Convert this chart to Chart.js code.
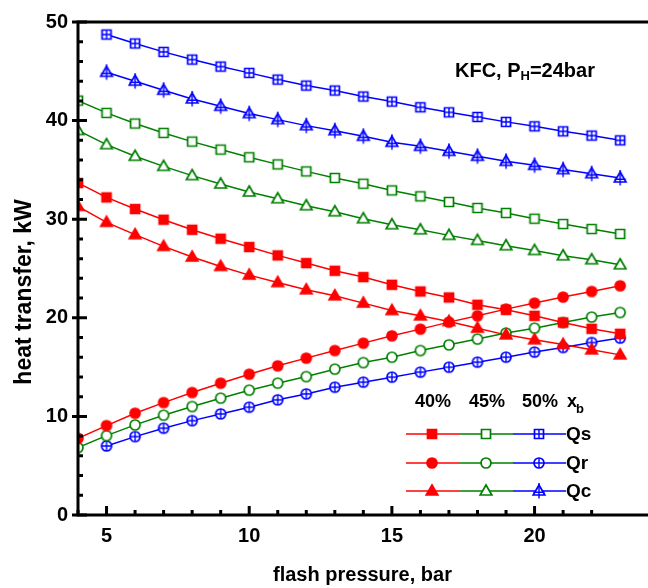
<!DOCTYPE html>
<html><head><meta charset="utf-8">
<script src="https://cdn.jsdelivr.net/npm/chart.js@4.4.0/dist/chart.umd.min.js"></script>
<style>html,body{margin:0;padding:0;background:#fff;overflow:hidden}#wrap{width:648px;height:588px;position:relative}</style>
</head><body><div id="wrap"><canvas id="c" width="648" height="588"></canvas></div>
<script>
const pressures = [4,5,6,7,8,9,10,11,12,13,14,15,16,17,18,19,20,21,22,23];
const xTickLabels = [5,10,15,20];
const yTickLabels = [0,10,20,30,40,50];
const fractionLabels = ['40%','45%','50%'];
const heatLabels = ['Qs','Qr','Qc'];

const qs40 = [33.67,32.21,31.03,29.95,28.93,28.02,27.18,26.33,25.55,24.77,24.13,23.35,22.67,22.06,21.32,20.81,20.20,19.52,18.88,18.38];
const qr40 = [7.78,9.07,10.32,11.40,12.42,13.37,14.28,15.13,15.91,16.68,17.43,18.17,18.85,19.56,20.20,20.88,21.49,22.10,22.67,23.25];
const qc40 = [31.30,29.68,28.43,27.24,26.16,25.21,24.33,23.58,22.84,22.23,21.49,20.74,20.20,19.63,18.95,18.27,17.77,17.30,16.75,16.24];
const qs45 = [42.03,40.78,39.70,38.75,37.87,37.06,36.28,35.56,34.85,34.18,33.60,32.92,32.32,31.75,31.14,30.63,30.05,29.51,29.00,28.50];
const qr45 = [6.83,8.05,9.14,10.12,11.00,11.85,12.66,13.37,14.04,14.79,15.46,16.00,16.68,17.26,17.84,18.45,18.95,19.52,20.07,20.54];
const qc45 = [39.00,37.56,36.38,35.36,34.42,33.57,32.76,32.08,31.37,30.76,30.05,29.44,28.93,28.36,27.85,27.31,26.83,26.29,25.89,25.38];
const qs50 = [null,48.73,47.82,46.97,46.19,45.48,44.84,44.16,43.55,43.05,42.44,41.93,41.35,40.84,40.37,39.87,39.42,38.91,38.48,38.00];
const qr50 = [null,7.00,7.95,8.80,9.57,10.25,10.93,11.68,12.28,12.96,13.47,13.98,14.49,14.99,15.50,16.01,16.52,16.99,17.49,17.94];
const qc50 = [null,44.90,44.00,43.08,42.20,41.45,40.71,40.10,39.49,38.98,38.41,37.80,37.39,36.88,36.38,35.87,35.46,35.03,34.62,34.18];

const RED = '#ff0000', GREEN = '#008000', BLUE = '#0000ff';
const FONT = '"Liberation Sans", Arial, sans-serif';

function makeMarker(shape, color, mode) {
  const s = 18, c = document.createElement('canvas');
  c.width = s; c.height = s;
  const g = c.getContext('2d'); const m = s / 2;
  g.lineWidth = 1.7; g.strokeStyle = color; g.fillStyle = mode === 'fill' ? color : '#fff';
  g.beginPath();
  if (shape === 'square') g.rect(m - 4.5, m - 4.5, 9, 9);
  else if (shape === 'circle') g.arc(m, m, 5, 0, Math.PI * 2);
  else { g.moveTo(m, m - 6); g.lineTo(m + 5.8, m + 4); g.lineTo(m - 5.8, m + 4); g.closePath(); }
  g.fill(); g.stroke();
  if (mode === 'cross') {
    g.lineWidth = 1.4;
    g.beginPath();
    if (shape === 'square') { g.moveTo(m, m - 4.5); g.lineTo(m, m + 4.5); g.moveTo(m - 4.5, m); g.lineTo(m + 4.5, m); }
    else if (shape === 'circle') { g.moveTo(m, m - 5); g.lineTo(m, m + 5); g.moveTo(m - 5, m); g.lineTo(m + 5, m); }
    else { g.moveTo(m, m - 8); g.lineTo(m, m + 7.5); g.moveTo(m - 5.5, m + 1.2); g.lineTo(m + 5.5, m + 1.2); }
    g.stroke();
  }
  return c;
}

const markers = {
  qs40: makeMarker('square', RED, 'fill'), qs45: makeMarker('square', GREEN, 'open'), qs50: makeMarker('square', BLUE, 'cross'),
  qr40: makeMarker('circle', RED, 'fill'), qr45: makeMarker('circle', GREEN, 'open'), qr50: makeMarker('circle', BLUE, 'cross'),
  qc40: makeMarker('triangle', RED, 'fill'), qc45: makeMarker('triangle', GREEN, 'open'), qc50: makeMarker('triangle', BLUE, 'cross')
};

function ds(label, values, color, marker) {
  const pts = [];
  pressures.forEach((p, i) => { if (values[i] != null) pts.push({ x: p, y: values[i] }); });
  return { label, data: pts, borderColor: color, backgroundColor: color, borderWidth: 1.5,
    pointStyle: marker, pointRadius: 6, pointHoverRadius: 6, tension: 0, fill: false, clip: 0 };
}

const datasets = [
  ds('Qs 50%', qs50, BLUE, markers.qs50), ds('Qc 50%', qc50, BLUE, markers.qc50),
  ds('Qs 45%', qs45, GREEN, markers.qs45), ds('Qc 45%', qc45, GREEN, markers.qc45),
  ds('Qs 40%', qs40, RED, markers.qs40), ds('Qc 40%', qc40, RED, markers.qc40),
  ds('Qr 40%', qr40, RED, markers.qr40), ds('Qr 45%', qr45, GREEN, markers.qr45), ds('Qr 50%', qr50, BLUE, markers.qr50)
];

const framePlugin = {
  id: 'frame',
  afterDatasetsDraw(chart) {
    const { ctx, chartArea: a, scales: { x, y } } = chart;
    ctx.save();
    ctx.strokeStyle = '#000'; ctx.lineWidth = 3; ctx.lineJoin = 'miter'; ctx.lineCap = 'butt';
    ctx.beginPath();
    ctx.moveTo(chart.width + 5, a.top); ctx.lineTo(a.left, a.top); ctx.lineTo(a.left, a.bottom); ctx.lineTo(chart.width + 5, a.bottom);
    ctx.stroke();
    ctx.beginPath();
    y.ticks.forEach(t => {
      const py = y.getPixelForValue(t.value);
      if (yTickLabels.includes(t.value)) { ctx.moveTo(a.left - 6, py); ctx.lineTo(a.left + 9, py); }
      else { ctx.moveTo(a.left, py); ctx.lineTo(a.left + 5, py); }
    });
    x.ticks.forEach(t => {
      if (!Number.isInteger(t.value)) return;
      const px = x.getPixelForValue(t.value);
      if (xTickLabels.includes(t.value)) { ctx.moveTo(px, a.bottom); ctx.lineTo(px, a.bottom - 9); }
      else { ctx.moveTo(px, a.bottom); ctx.lineTo(px, a.bottom - 5); }
    });
    ctx.stroke();
    ctx.restore();
  },
  afterDraw(chart) {
    const { ctx, chartArea: a } = chart;
    ctx.save();
    ctx.fillStyle = '#000';
    // axis titles
    ctx.font = 'bold 23px ' + FONT;
    ctx.textAlign = 'center'; ctx.textBaseline = 'middle';
    ctx.save(); ctx.translate(25, a.top + 270); ctx.rotate(-Math.PI / 2);
    ctx.fillText('heat transfer, kW', 0, 0); ctx.restore();
    ctx.font = 'bold 20px ' + FONT;
    ctx.fillText('flash pressure, bar', (a.left + a.right) / 2 + 4, 575);
    // annotation
    ctx.textAlign = 'left'; ctx.textBaseline = 'alphabetic';
    let tx = a.left + 377, ty = a.top + 55;
    ctx.font = 'bold 20px ' + FONT;
    ctx.fillText('KFC, P', tx, ty); tx += ctx.measureText('KFC, P').width;
    ctx.font = 'bold 13px ' + FONT; ctx.fillText('H', tx, ty + 3); tx += ctx.measureText('H').width;
    ctx.font = 'bold 20px ' + FONT; ctx.fillText('=24bar', tx, ty);
    // legend
    const cols = [a.left + 354, a.left + 408, a.left + 461];
    const colEdges = [a.left + 328, a.left + 381, a.left + 435, a.left + 488];
    const colors = [RED, GREEN, BLUE];
    ctx.font = 'bold 18px ' + FONT; ctx.textAlign = 'center';
    const hy = a.top + 385;
    fractionLabels.forEach((f, i) => ctx.fillText(f, cols[i] + 1, hy));
    ctx.textAlign = 'left';
    ctx.fillText('x', a.left + 489, hy);
    ctx.font = 'bold 13px ' + FONT; ctx.fillText('b', a.left + 498, hy + 6);
    const rowY = [a.top + 412, a.top + 441, a.top + 469];
    const rowMarkers = [[markers.qs40, markers.qs45, markers.qs50], [markers.qr40, markers.qr45, markers.qr50], [markers.qc40, markers.qc45, markers.qc50]];
    heatLabels.forEach((lab, r) => {
      const yy = rowY[r];
      for (let i = 0; i < 3; i++) {
        ctx.strokeStyle = colors[i]; ctx.lineWidth = 1.5;
        ctx.beginPath(); ctx.moveTo(colEdges[i], yy); ctx.lineTo(colEdges[i + 1], yy); ctx.stroke();
      }
      for (let i = 0; i < 3; i++) {
        const mk = rowMarkers[r][i];
        ctx.drawImage(mk, Math.round(cols[i] - mk.width / 2), Math.round(yy - mk.height / 2));
      }
      ctx.fillStyle = '#000'; ctx.font = 'bold 19px ' + FONT; ctx.textBaseline = 'middle';
      ctx.fillText(lab, a.left + 488, yy + 1);
      ctx.textBaseline = 'alphabetic';
    });
    ctx.restore();
  }
};

new Chart(document.getElementById('c'), {
  type: 'line',
  data: { datasets },
  options: {
    responsive: false, animation: false, devicePixelRatio: 1,
    layout: { padding: { top: 22, right: 0, left: 0, bottom: 0 } },
    plugins: { legend: { display: false }, tooltip: { enabled: false } },
    scales: {
      x: {
        type: 'linear', min: 4, max: 23.66,
        grid: { display: false, drawTicks: false }, border: { display: false },
        ticks: { stepSize: 1, autoSkip: false, maxRotation: 0, padding: 9, color: '#000',
          font: { family: FONT, size: 20, weight: 'bold' },
          callback: v => xTickLabels.includes(v) ? String(v) : '' },
        afterFit: s => { s.height = 73; }
      },
      y: {
        type: 'linear', min: 0, max: 50,
        grid: { display: false, drawTicks: false }, border: { display: false },
        ticks: { stepSize: 2, autoSkip: false, padding: 10, color: '#000',
          font: { family: FONT, size: 20, weight: 'bold' },
          callback: v => yTickLabels.includes(v) ? String(v) : '' },
        afterFit: s => { s.width = 78; }
      }
    }
  },
  plugins: [framePlugin]
});
</script></body></html>
